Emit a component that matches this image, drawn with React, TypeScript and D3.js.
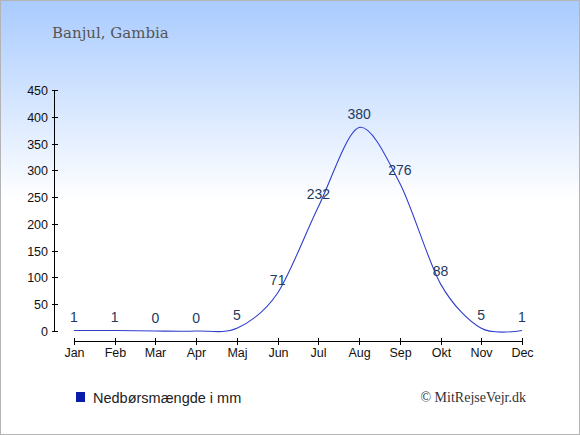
import React from 'react';
import * as d3 from 'd3';

const months = ['Jan', 'Feb', 'Mar', 'Apr', 'Maj', 'Jun', 'Jul', 'Aug', 'Sep', 'Okt', 'Nov', 'Dec'];
const rainfall = [1, 1, 0, 0, 5, 71, 232, 380, 276, 88, 5, 1];
const yTicks = [0, 50, 100, 150, 200, 250, 300, 350, 400, 450];

const W = 580;
const H = 435;

const App: React.FC = () => {
    const x = d3.scalePoint<string>().domain(months).range([74, 522]);
    const y = d3.scaleLinear().domain([0, 450]).range([331, 90]);

    const line = d3.line<number>()
        .x((_, i) => x(months[i]) as number)
        .y(d => y(d))
        .curve(d3.curveCardinal.tension(0.1));

    return (
        <svg width={W} height={H} style={{ position: 'absolute', left: 0, top: 0 }}
            fontFamily="Arial, 'Liberation Sans', sans-serif">
            <defs>
                <linearGradient id="bg" x1="0" y1="0" x2="0" y2="1">
                    <stop offset="0" stopColor="#a9cbff" />
                    <stop offset="0.46" stopColor="#ffffff" />
                    <stop offset="1" stopColor="#ffffff" />
                </linearGradient>
            </defs>
            <rect x={0.5} y={0.5} width={W - 1} height={H - 1} fill="url(#bg)" stroke="#b4b4b4" />

            <text x={52} y={38} fontFamily="'DejaVu Serif', 'Liberation Serif', serif" fontSize={15}
                fill="#555555">Banjul, Gambia</text>

            {/* y axis */}
            <line x1={54.5} x2={54.5} y1={y(450)} y2={y(0)} stroke="#000" />
            {yTicks.map(t => (
                <g key={t} transform={`translate(0,${Math.round(y(t)) + 0.5})`}>
                    <line x1={52} x2={58} stroke="#000" />
                    <text x={48} dy="0.35em" textAnchor="end" fontSize={12.5} fill="#111">{t}</text>
                </g>
            ))}

            {/* x axis */}
            <line x1={x('Jan')} x2={x('Dec')} y1={341.5} y2={341.5} stroke="#000" />
            {months.map(m => (
                <g key={m} transform={`translate(${Math.round(x(m) as number) + 0.5},0)`}>
                    <line y1={338} y2={345} stroke="#000" />
                    <text y={357} textAnchor="middle" fontSize={12.5} fill="#111">{m}</text>
                </g>
            ))}

            <path d={line(rainfall) || ''} fill="none" stroke="#2f3fcc" strokeWidth={1.1} />

            {rainfall.map((v, i) => (
                <text key={i} x={x(months[i])} y={y(v) - 8} textAnchor="middle" fontSize={14}
                    fill="#223a5e">{v}</text>
            ))}

            {/* legend */}
            <rect x={76} y={392} width={9} height={10} fill="#0a1caa" />
            <text x={93} y={403} fontSize={14.5} fill="#222">Nedbørsmængde i mm</text>
            <text x={526} y={402} textAnchor="end" fontSize={14}
                fontFamily="'Liberation Serif', 'DejaVu Serif', serif" fill="#333">© MitRejseVejr.dk</text>
        </svg>
    );
};

export default App;
